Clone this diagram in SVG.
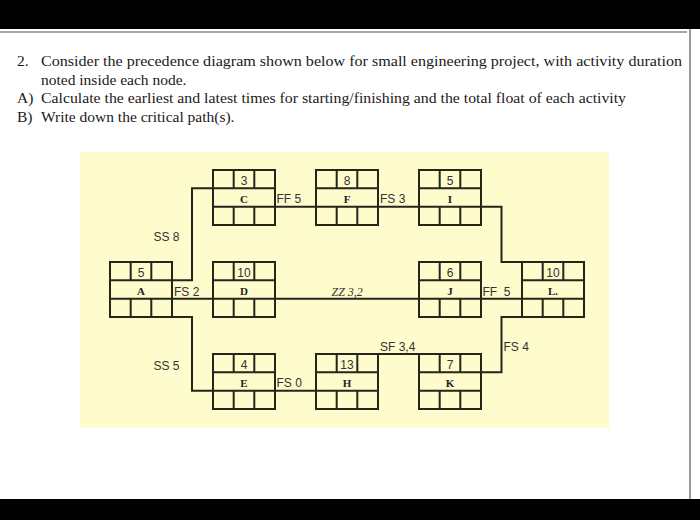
<svg xmlns="http://www.w3.org/2000/svg" xmlns:xlink="http://www.w3.org/1999/xlink" width="700" height="520" viewBox="0 0 700 520">
  <style>
    .q { font-family: "Liberation Serif", "Times New Roman", serif; font-size: 15.5px; fill: #1a1a1a; }
    .dur { font-family: "Liberation Sans", Arial, sans-serif; font-size: 12px; fill: #333; text-anchor: middle; }
    .act { font-family: "Liberation Serif", "Times New Roman", serif; font-size: 11px; font-weight: bold; fill: #222; text-anchor: middle; }
    .lbl { font-family: "Liberation Sans", Arial, sans-serif; font-size: 12px; fill: #333; }
    .zz { font-family: "Liberation Serif", "Times New Roman", serif; font-size: 12px; font-style: italic; fill: #333; }
    .ln { fill: none; stroke: #26251a; stroke-width: 2; }
  </style>
  <defs>
    <g id="box">
      <rect x="0" y="0" width="62" height="55" class="ln"/>
      <path class="ln" d="M0,18.3 H62 M0,36.7 H62 M20.7,0 V18.3 M41.3,0 V18.3 M20.7,36.7 V55 M41.3,36.7 V55"/>
    </g>
  </defs>

  <!-- page -->
  <rect x="0" y="0" width="700" height="520" fill="#ffffff"/>
  <rect x="0" y="0" width="700" height="29" fill="#000000"/>
  <rect x="0" y="499" width="700" height="21" fill="#000000"/>
  <line x1="0" y1="32" x2="687" y2="32" stroke="#8a8a8a" stroke-width="1.5"/>
  <line x1="690" y1="29" x2="690" y2="499" stroke="#7a7a7a" stroke-width="1.5"/>

  <!-- question text -->
  <g id="question">
    <text class="q" x="17" y="66">2.</text>
    <text class="q" x="41" y="66" textLength="641" lengthAdjust="spacingAndGlyphs">Consider the precedence diagram shown below for small engineering project, with activity duration</text>
    <text class="q" x="41" y="84.5">noted inside each node.</text>
    <text class="q" x="17" y="103">A)</text>
    <text class="q" x="41" y="103" textLength="585" lengthAdjust="spacingAndGlyphs">Calculate the earliest and latest times for starting/finishing and the total float of each activity</text>
    <text class="q" x="17" y="122">B)</text>
    <text class="q" x="41" y="122">Write down the critical path(s).</text>
  </g>

  <!-- diagram background -->
  <rect x="80" y="152" width="529" height="276" fill="#fefbcc"/>

  <!-- connectors -->
  <g id="connectors">
    <path class="ln" d="M172,280.3 H192 V188.3 H213"/>
    <path class="ln" d="M172,298.7 H213"/>
    <path class="ln" d="M275,298.7 H419"/>
    <path class="ln" d="M481,298.7 H522"/>
    <path class="ln" d="M172,317 H192 V390.7 H213"/>
    <path class="ln" d="M275,390.7 H316"/>
    <path class="ln" d="M378,354 H419"/>
    <path class="ln" d="M481,372.3 H501.5 V317 H522"/>
    <path class="ln" d="M275,206.7 H316"/>
    <path class="ln" d="M378,206.7 H419"/>
    <path class="ln" d="M481,206.7 H501.5 V262 H522"/>
    <text class="lbl" x="153.5" y="241">SS 8</text>
    <text class="lbl" x="174" y="295.5">FS 2</text>
    <text class="zz" x="331.5" y="296">ZZ 3,2</text>
    <text class="lbl" x="482.5" y="295.5" xml:space="preserve">FF  5</text>
    <text class="lbl" x="153.5" y="370">SS 5</text>
    <text class="lbl" x="276.5" y="386.5">FS 0</text>
    <text class="lbl" x="380" y="350.5">SF 3,4</text>
    <text class="lbl" x="503.5" y="350.5">FS 4</text>
    <text class="lbl" x="276.5" y="203">FF 5</text>
    <text class="lbl" x="380" y="203">FS 3</text>
  </g>

  <!-- nodes -->
  <g id="node-C"><use xlink:href="#box" x="213" y="170"/><text class="dur" x="244" y="184.5">3</text><text class="act" x="244" y="202.5">C</text></g>
  <g id="node-F"><use xlink:href="#box" x="316" y="170"/><text class="dur" x="347" y="184.5">8</text><text class="act" x="347" y="202.5">F</text></g>
  <g id="node-I"><use xlink:href="#box" x="419" y="170"/><text class="dur" x="450" y="184.5">5</text><text class="act" x="450" y="202.5">I</text></g>
  <g id="node-A"><use xlink:href="#box" x="110" y="262"/><text class="dur" x="141" y="276.5">5</text><text class="act" x="141" y="294.5">A</text></g>
  <g id="node-D"><use xlink:href="#box" x="213" y="262"/><text class="dur" x="244" y="276.5">10</text><text class="act" x="244" y="294.5">D</text></g>
  <g id="node-J"><use xlink:href="#box" x="419" y="262"/><text class="dur" x="450" y="276.5">6</text><text class="act" x="450" y="294.5">J</text></g>
  <g id="node-L"><use xlink:href="#box" x="522" y="262"/><text class="dur" x="553" y="276.5">10</text><text class="act" x="553" y="294.5">L.</text></g>
  <g id="node-E"><use xlink:href="#box" x="213" y="354"/><text class="dur" x="244" y="368.5">4</text><text class="act" x="244" y="386.5">E</text></g>
  <g id="node-H"><use xlink:href="#box" x="316" y="354"/><text class="dur" x="347" y="368.5">13</text><text class="act" x="347" y="386.5">H</text></g>
  <g id="node-K"><use xlink:href="#box" x="419" y="354"/><text class="dur" x="450" y="368.5">7</text><text class="act" x="450" y="386.5">K</text></g>
</svg>
